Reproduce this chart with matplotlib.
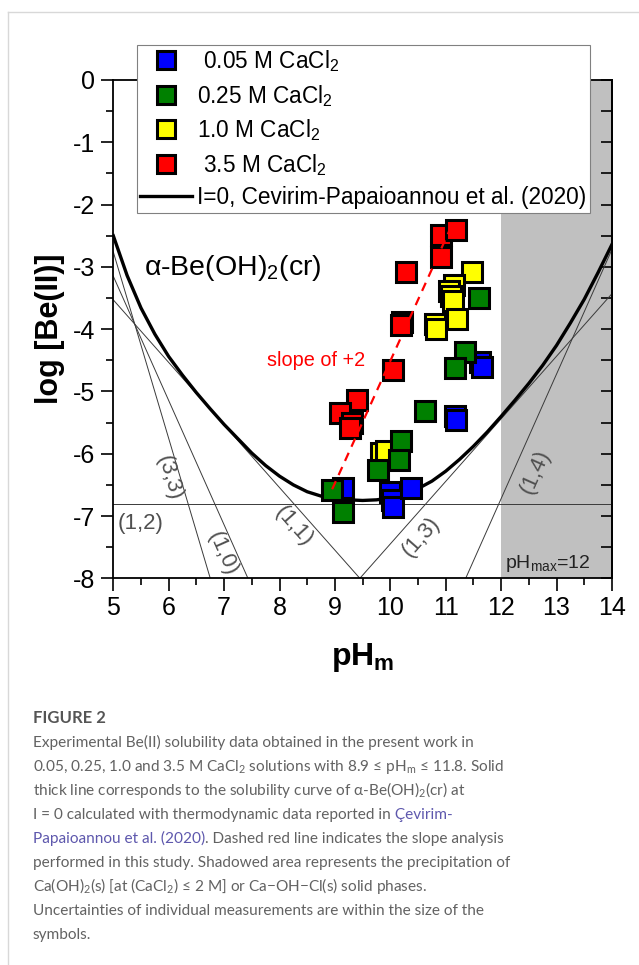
import matplotlib
matplotlib.use('Agg')
import matplotlib.pyplot as plt
from matplotlib.lines import Line2D

plt.rcParams['font.family'] = ['Liberation Sans', 'DejaVu Sans']
plt.rcParams['axes.unicode_minus'] = False

# solubility data (pHm, log [Be(II)])
blue_x = [9.15, 10.0, 10.03, 10.05, 10.38, 11.16, 11.19, 11.61, 11.66]
blue_y = [-6.55, -6.62, -6.75, -6.85, -6.55, -5.40, -5.46, -4.52, -4.60]

yellow_x = [11.48, 11.15, 11.05, 11.1, 11.13, 11.2, 10.8, 10.82, 9.84, 9.92]
yellow_y = [-3.09, -3.29, -3.38, -3.47, -3.55, -3.83, -3.92, -4.0, -5.99, -5.95]

green_x = [11.6, 11.34, 11.16, 10.62, 10.2, 10.16, 9.78, 8.94, 9.15]
green_y = [-3.5, -4.36, -4.63, -5.32, -5.8, -6.1, -6.26, -6.58, -6.93]

red_x = [10.91, 11.18, 10.91, 10.29, 10.21, 10.2, 10.05, 9.39, 9.09, 9.3, 9.28]
red_y = [-2.49, -2.41, -2.84, -3.08, -3.88, -3.93, -4.65, -5.14, -5.35, -5.5, -5.58]

# thick solubility curve of alpha-Be(OH)2(cr), I=0
curve_x = [5, 5.25, 5.5, 5.75, 6, 6.25, 6.5, 6.75, 7, 7.25, 7.5, 7.75, 8, 8.25,
           8.5, 8.75, 9, 9.25, 9.5, 9.75, 10, 10.25, 10.5, 10.75, 11, 11.25,
           11.5, 11.75, 12, 12.25, 12.5, 12.75, 13, 13.25, 13.5, 13.75, 14]
curve_y = [-2.5, -3.14, -3.66, -4.08, -4.44, -4.74, -5.02, -5.28, -5.53, -5.76,
           -5.99, -6.19, -6.36, -6.50, -6.61, -6.68, -6.72, -6.74, -6.75, -6.74,
           -6.71, -6.65, -6.56, -6.44, -6.28, -6.09, -5.88, -5.65, -5.40, -5.14,
           -4.87, -4.58, -4.26, -3.90, -3.52, -3.09, -2.64]

# thin species lines (end points)
species = {
    '(3,3)': ([5, 6.75], [-2.76, -8]),
    '(1,0)': ([5, 7.43], [-3.15, -8]),
    '(1,1)': ([5, 9.45], [-3.53, -8]),
    '(1,2)': ([5, 14], [-6.8, -6.8]),
    '(1,3)': ([9.45, 14], [-8, -3.43]),
    '(1,4)': ([11.36, 14], [-8, -2.72]),
}

slope_x = [8.95, 11.07]
slope_y = [-6.57, -2.41]

fig = plt.figure(figsize=(6.39, 9.65), dpi=100)
ax = fig.add_axes([0.1773, 0.4007, 0.7804, 0.5164])
ax.set_xlim(5, 14)
ax.set_ylim(-8, 0)

ax.axvspan(12, 14, color='#c0c0c0', lw=0, zorder=0)

for name in species:
    xs, ys = species[name]
    ax.plot(xs, ys, color='#3a3a3a', lw=0.7, zorder=1)

ax.plot(curve_x, curve_y, color='k', lw=2.4, zorder=2)
ax.plot(slope_x, slope_y, color='red', lw=1.6, dashes=(4, 3), zorder=6)

mk = dict(ls='none', marker='s', ms=14, mec='k', mew=2.2)
ax.plot(blue_x, blue_y, mfc='#0000ff', zorder=3, **mk)
ax.plot(yellow_x, yellow_y, mfc='#ffff00', zorder=3, **mk)
ax.plot(green_x, green_y, mfc='#008000', zorder=4, **mk)
ax.plot(red_x, red_y, mfc='#ff0000', zorder=5, **mk)

# species labels
lab = dict(color='#505050', fontsize=16, ha='center', va='center')
ax.text(6.01, -6.39, '(3,3)', rotation=-73.5, **lab)
ax.text(6.98, -7.6, '(1,0)', rotation=-66, **lab)
ax.text(8.25, -7.17, '(1,1)', rotation=-48.3, **lab)
ax.text(10.56, -7.33, '(1,3)', rotation=48.3, **lab)
ax.text(12.61, -6.29, '(1,4)', rotation=66, **lab)
ax.text(5.5, -7.12, '(1,2)', **lab)

ax.text(5.55, -3.13, r'α-Be(OH)$_\mathregular{2}$(cr)', fontsize=20.5)
ax.text(7.77, -4.59, 'slope of +2', color='red', fontsize=14.3)
ax.text(12.07, -7.84, r'pH$_\mathregular{max}$=12', fontsize=14, color='#222222')

# axes styling
ax.set_xticks(range(5, 15))
ax.set_xticks([x + 0.5 for x in range(5, 14)], minor=True)
ax.set_yticks(range(-8, 1))
ax.set_yticks([y + 0.5 for y in range(-8, 0)], minor=True)
ax.tick_params(which='major', direction='out', length=9, width=1.2, labelsize=18, pad=4)
ax.tick_params(which='minor', direction='out', length=5, width=1.2)
for s in ax.spines.values():
    s.set_linewidth(1.3)

sec = ax.secondary_yaxis('right')
sec.set_yticks(range(-8, 1))
sec.set_yticks([y + 0.5 for y in range(-8, 0)], minor=True)
sec.tick_params(which='both', direction='in', length=8, width=1.2, labelright=False)
sec.spines['right'].set_linewidth(1.3)

ax.set_xlabel(r'pH$_\mathregular{m}$', fontsize=23, fontweight='bold', labelpad=15)
ax.set_ylabel('log [Be(II)]', fontsize=22, fontweight='bold', labelpad=6)

handles = [
    Line2D([], [], ls='none', marker='s', ms=12.5, mfc='#0000ff', mec='k', mew=2.2),
    Line2D([], [], ls='none', marker='s', ms=12.5, mfc='#008000', mec='k', mew=2.2),
    Line2D([], [], ls='none', marker='s', ms=12.5, mfc='#ffff00', mec='k', mew=2.2),
    Line2D([], [], ls='none', marker='s', ms=12.5, mfc='#ff0000', mec='k', mew=2.2),
    Line2D([], [], color='k', lw=2.4),
]
labels = [' 0.05 M CaCl$_\\mathregular{2}$', '0.25 M CaCl$_\\mathregular{2}$',
          '1.0 M CaCl$_\\mathregular{2}$', ' 3.5 M CaCl$_\\mathregular{2}$',
          'I=0, Cevirim-Papaioannou et al. (2020)']
leg = ax.legend(handles, labels, loc='upper left', bbox_to_anchor=(137 / 639, 1 - 45 / 965),
                bbox_transform=fig.transFigure, borderaxespad=0, fontsize=16.3,
                handlelength=2.3, handletextpad=0.2, borderpad=0.15, labelspacing=0.38,
                fancybox=False, framealpha=1, edgecolor='#808080')
leg.get_frame().set_linewidth(0.8)
leg.set_zorder(10)

# page border
fig.add_artist(Line2D([8 / 639, 8 / 639], [0, 1 - 12 / 965], color='#d8d8d8', lw=1))
fig.add_artist(Line2D([8 / 639, 1], [1 - 12 / 965, 1 - 12 / 965], color='#d8d8d8', lw=1))

# caption
cap_font = ['Lato', 'DejaVu Sans']
gray = '#626262'
link = '#5e58ad'
cap_size = 11.1
x0 = 33 / 639
fig.text(x0, 1 - 723 / 965, 'FIGURE 2', family=cap_font, fontsize=12, fontweight='bold',
         color='#555555', va='baseline')

lines = [
    'Experimental Be(II) solubility data obtained in the present work in',
    r'0.05, 0.25, 1.0 and 3.5 M CaCl$_\mathregular{2}$ solutions with 8.9 ≤ pH$_\mathregular{m}$ ≤ 11.8. Solid',
    r'thick line corresponds to the solubility curve of α-Be(OH)$_\mathregular{2}$(cr) at',
    'I = 0 calculated with thermodynamic data reported in',
    'Papaioannou et al. (2020)',
    'performed in this study. Shadowed area represents the precipitation of',
    r'Ca(OH)$_\mathregular{2}$(s) [at (CaCl$_\mathregular{2}$) ≤ 2 M] or Ca−OH−Cl(s) solid phases.',
    'Uncertainties of individual measurements are within the size of the',
    'symbols.',
]
r = fig.canvas.get_renderer()
for i, txt in enumerate(lines):
    yb = 1 - (747 + 24 * i) / 965
    c = link if i == 4 else gray
    t = fig.text(x0, yb, txt, family=cap_font, fontsize=cap_size, color=c, va='baseline')
    if i == 3:
        w = t.get_window_extent(r).width / fig.bbox.width
        fig.text(x0 + w, yb, ' Çevirim-', family=cap_font, fontsize=cap_size, color=link,
                 va='baseline')
    if i == 4:
        w = t.get_window_extent(r).width / fig.bbox.width
        fig.text(x0 + w, yb, '. Dashed red line indicates the slope analysis', family=cap_font,
                 fontsize=cap_size, color=gray, va='baseline')

fig.savefig('out.png', dpi=100)
